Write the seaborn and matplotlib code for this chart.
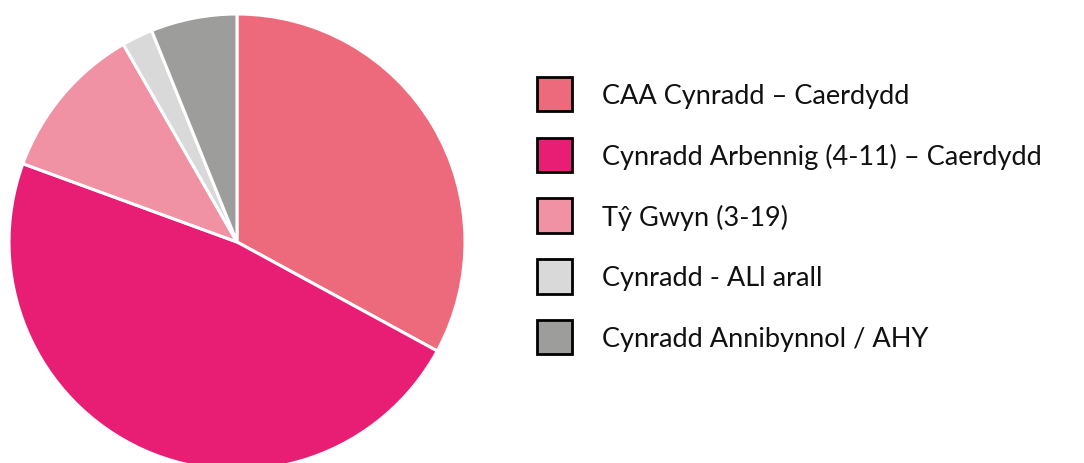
import matplotlib
matplotlib.use('Agg')
import matplotlib.pyplot as plt
import matplotlib.patches as mpatches
import seaborn as sns

# data (share of pupils)
categories = [
    "CAA Cynradd – Caerdydd",
    "Cynradd Arbennig (4-11) – Caerdydd",
    "Tŷ Gwyn (3-19)",
    "Cynradd - ALl arall",
    "Cynradd Annibynnol / AHY",
]
shares = [32.9, 47.6, 11.1, 2.2, 6.1]
colours = ["#EC6A7B", "#E71E74", "#F092A4", "#D9D9D9", "#9D9D9C"]

sns.set_theme(style="white")
plt.rcParams['font.family'] = ['Lato', 'DejaVu Sans']

fig = plt.figure(figsize=(10.84, 4.64), dpi=100)
W, H = 1084, 464
cx, cy, r = 237, 243, 228
ax = fig.add_axes([(cx - r) / W, (H - cy - r) / H, 2 * r / W, 2 * r / H])
ax.pie(shares, colors=colours, startangle=90, counterclock=False, radius=1,
       wedgeprops=dict(edgecolor="white", linewidth=2.2))
ax.set_xlim(-1, 1)
ax.set_ylim(-1, 1)
ax.set_aspect('equal')
ax.axis('off')

fs = 19.5
handles = [mpatches.Patch(facecolor=c, edgecolor="black", linewidth=2, label=l)
           for c, l in zip(colours, categories)]
fig.legend(handles=handles, loc="upper left", bbox_to_anchor=(537 / W, 1 - 78 / H),
           frameon=False, fontsize=fs, labelcolor="#111111",
           handlelength=25.2 / fs, handleheight=1.58,
           handletextpad=1.1, labelspacing=0.97, borderaxespad=0, borderpad=0)

fig.savefig("out.png", dpi=100)
